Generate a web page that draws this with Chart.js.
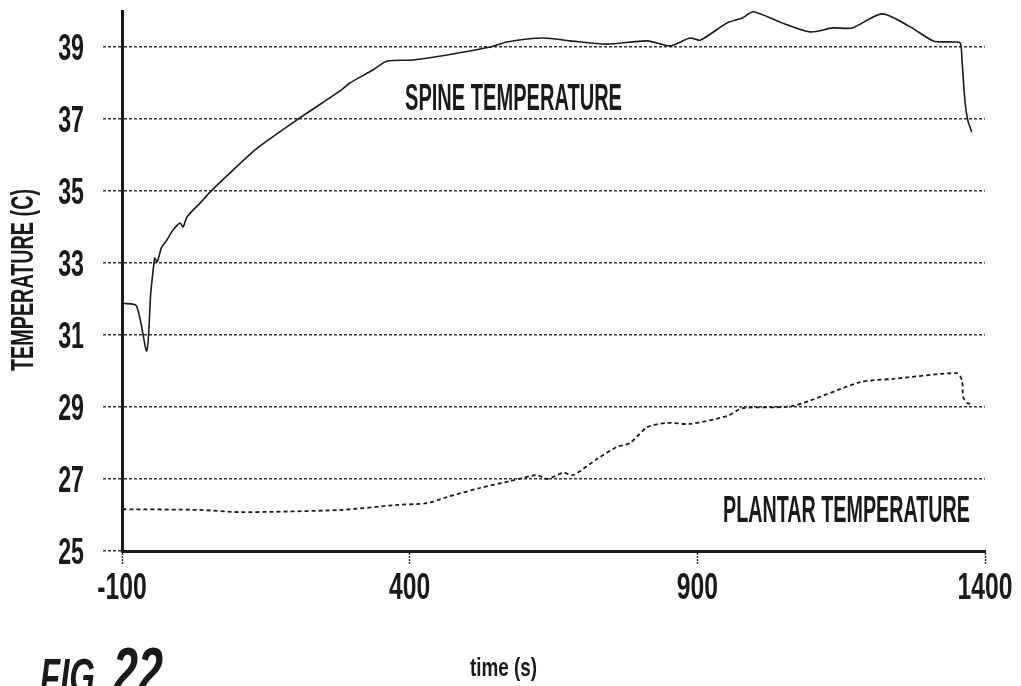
<!DOCTYPE html>
<html>
<head>
<meta charset="utf-8">
<script src="https://cdn.jsdelivr.net/npm/chart.js@4.4.1/dist/chart.umd.min.js"></script>
<style>
    body { margin: 0; background: #fff; }
    #wrap { width: 1021px; height: 686px; position: relative; }
</style>
</head>
<body>
<div id="wrap"><canvas id="temp-chart"></canvas></div>
<script>
// values (time in s, temperature in C)
const spineTime = [-99, -75, -57, -50, -44, -43, -39, -31, -22, -11, 1, 6, 13, 36, 53, 93, 135, 209, 279, 296, 336, 361, 406, 465, 540, 569, 632, 679, 743, 813, 853, 887, 905, 952, 979, 997, 1044, 1096, 1136, 1169, 1221, 1270, 1310, 1344, 1357, 1360, 1365, 1370, 1377];
const spineTemp = [31.88, 31.81, 30.56, 32.17, 33.06, 33.14, 33.03, 33.44, 33.64, 33.92, 34.11, 34.0, 34.28, 34.67, 34.97, 35.58, 36.19, 37.03, 37.78, 38.0, 38.36, 38.61, 38.64, 38.78, 39.0, 39.14, 39.25, 39.17, 39.08, 39.17, 39.03, 39.25, 39.19, 39.67, 39.81, 39.98, 39.69, 39.42, 39.53, 39.53, 39.92, 39.56, 39.17, 39.14, 39.11, 38.64, 37.53, 36.97, 36.64];

const plantarTime = [-99, 36, 105, 279, 378, 430, 465, 522, 574, 621, 639, 667, 684, 726, 760, 783, 813, 847, 887, 952, 979, 1066, 1183, 1240, 1351, 1360, 1362, 1369, 1377];
const plantarTemp = [26.16, 26.14, 26.08, 26.14, 26.28, 26.33, 26.5, 26.75, 26.94, 27.11, 27.0, 27.17, 27.11, 27.56, 27.89, 28.0, 28.44, 28.56, 28.53, 28.75, 28.97, 29.03, 29.69, 29.78, 29.94, 29.75, 29.28, 29.11, 29.08];

const xTicks = [-100, 400, 900, 1400];
const yTicks = [25, 27, 29, 31, 33, 35, 37, 39];

const FONT = '"Liberation Sans", Arial, sans-serif';
const INK = '#1a1a1a';

function toPoints(xs, ys) {
    return xs.map((x, i) => ({ x: x, y: ys[i] }));
}

// condensed lettering: the figure uses a very narrow face, so squeeze horizontally
function drawCondensed(ctx, text, x, y, capHeight, squeeze, align, italic, rotate) {
    ctx.save();
    ctx.font = (italic ? 'italic ' : '') + 'bold ' + (capHeight / 0.716) + 'px ' + FONT;
    ctx.translate(x, y);
    if (rotate) ctx.rotate(rotate);
    ctx.scale(squeeze, 1);
    ctx.fillStyle = INK;
    ctx.textBaseline = 'alphabetic';
    ctx.textAlign = align;
    ctx.fillText(text, 0, 0);
    ctx.restore();
}

function fitSqueeze(ctx, text, capHeight, width, italic) {
    ctx.save();
    ctx.font = (italic ? 'italic ' : '') + 'bold ' + (capHeight / 0.716) + 'px ' + FONT;
    const w = ctx.measureText(text).width;
    ctx.restore();
    return width / w;
}

const labelsPlugin = {
    id: 'figureLabels',
    afterDraw(chart) {
        const ctx = chart.ctx;
        const xs = chart.scales.x;
        const ys = chart.scales.y;

        // tick labels
        ys.ticks.forEach(t => {
            drawCondensed(ctx, String(t.value), 84, ys.getPixelForValue(t.value) + 13, 26, 0.64, 'right');
        });
        xs.ticks.forEach(t => {
            drawCondensed(ctx, String(t.value), xs.getPixelForValue(t.value), 599, 26, 0.68, 'center');
        });

        // axis titles
        const yTitle = 'TEMPERATURE (C)';
        drawCondensed(ctx, yTitle, 33, 280, 22, fitSqueeze(ctx, yTitle, 22, 182), 'center', false, -Math.PI / 2);
        const xTitle = 'time (s)';
        drawCondensed(ctx, xTitle, 470, 676, 19, fitSqueeze(ctx, xTitle, 19, 67), 'left');

        // series labels
        const spineLabel = 'SPINE TEMPERATURE';
        drawCondensed(ctx, spineLabel, 405, 110, 27, fitSqueeze(ctx, spineLabel, 27, 217), 'left');
        const plantarLabel = 'PLANTAR TEMPERATURE';
        drawCondensed(ctx, plantarLabel, 723, 522, 27, fitSqueeze(ctx, plantarLabel, 27, 247), 'left');

        // figure number
        drawCondensed(ctx, 'FIG', 40, 694, 36, fitSqueeze(ctx, 'FIG', 36, 55, true), 'left', true);
        drawCondensed(ctx, '22', 113, 694, 48, fitSqueeze(ctx, '22', 48, 50, true), 'left', true);
    }
};

const ctx = document.getElementById('temp-chart');

new Chart(ctx, {
    type: 'line',
    data: {
        datasets: [{
            label: 'SPINE TEMPERATURE',
            data: toPoints(spineTime, spineTemp),
            borderColor: INK,
            borderWidth: 1.6,
            pointRadius: 0,
            tension: 0.25,
            clip: false
        }, {
            label: 'PLANTAR TEMPERATURE',
            data: toPoints(plantarTime, plantarTemp),
            borderColor: INK,
            borderWidth: 1.8,
            borderDash: [4, 3],
            pointRadius: 0,
            tension: 0.25,
            clip: false
        }]
    },
    options: {
        responsive: true,
        maintainAspectRatio: false,
        animation: false,
        layout: {
            padding: { top: 11, right: 36, bottom: 0, left: 0 }
        },
        plugins: {
            legend: { display: false },
            tooltip: { enabled: false }
        },
        scales: {
            x: {
                type: 'linear',
                min: -100,
                max: 1400,
                afterBuildTicks: scale => {
                    scale.ticks = xTicks.map(v => ({ value: v }));
                },
                afterFit: scale => {
                    scale.height = 686 - 551;
                    scale.paddingLeft = 0;
                    scale.paddingRight = 0;
                },
                ticks: { display: false },
                grid: {
                    drawOnChartArea: false,
                    drawTicks: true,
                    tickLength: 13,
                    tickColor: '#333',
                    tickWidth: 1.5,
                    tickBorderDash: [2, 1]
                },
                border: {
                    display: true,
                    color: INK,
                    width: 3
                }
            },
            y: {
                type: 'linear',
                min: 25,
                max: 40,
                afterBuildTicks: scale => {
                    scale.ticks = yTicks.map(v => ({ value: v }));
                },
                afterFit: scale => {
                    scale.width = 122;
                    scale.paddingTop = 0;
                    scale.paddingBottom = 0;
                },
                ticks: { display: false },
                grid: {
                    color: '#333',
                    lineWidth: 1.5,
                    tickLength: 19,
                    tickColor: '#333',
                    tickWidth: 1.5,
                    tickBorderDash: [3, 2]
                },
                border: {
                    display: true,
                    color: INK,
                    width: 3,
                    dash: [3, 2]
                }
            }
        }
    },
    plugins: [labelsPlugin]
});
</script>
</body>
</html>
